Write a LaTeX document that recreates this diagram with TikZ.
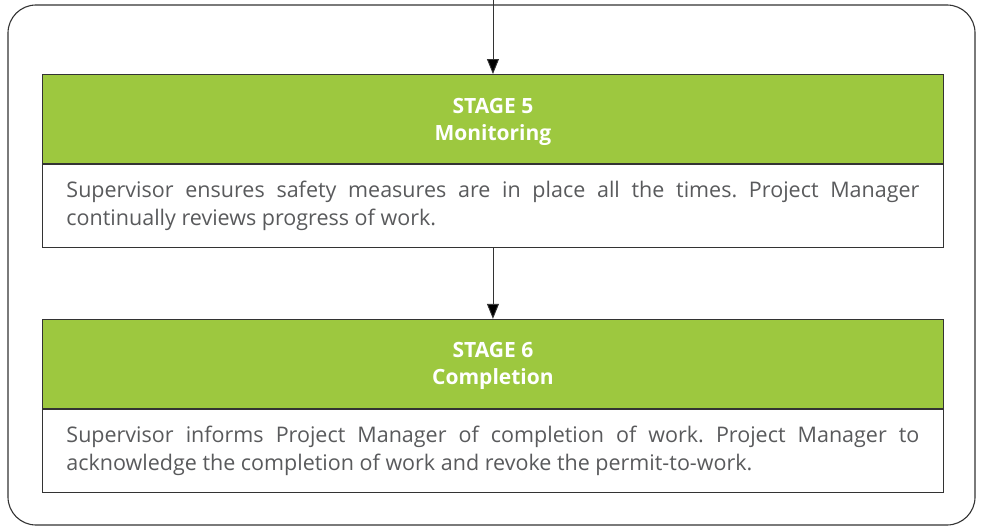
\documentclass[tikz,border=0pt]{standalone}
\usepackage{fontspec}
\setmainfont{Open Sans}
\usepackage{tikz}
\usetikzlibrary{arrows.meta}
\usetikzlibrary{positioning}
\definecolor{stagegreen}{HTML}{9DC83F}
\definecolor{bodygray}{HTML}{595A5C}

\begin{document}
\begin{tikzpicture}[x=1pt, y=-1pt,
    stagehead/.style={draw=black!80, fill=stagegreen, line width=0.9pt, minimum width=901pt, minimum height=89pt,
        inner sep=0pt, text depth=0pt, text=white, align=center, font=\bfseries\fontsize{21}{27}\selectfont},
    stagebody/.style={draw=black!80, line width=0.9pt, minimum width=901pt, minimum height=83pt,
        inner sep=0pt, text width=853pt, align=justify, text=bodygray, font=\frenchspacing\fontsize{21.5}{28}\selectfont},
    flow/.style={draw=black!80, line width=0.9pt, -{Triangle[length=15pt, width=12pt, fill=black]}}]
    \useasboundingbox (0, 0) rectangle (981, 527); % page size
    \draw[draw=black!80, line width=1.1pt, rounded corners=28pt] (8, 5) rectangle (975, 525);
    \node[stagehead, anchor=north west] (head5) at (42, 74) {STAGE 5\\Monitoring};
    \node[stagebody, below=0pt of head5] (body5) {Supervisor ensures safety measures are in place all the times. Project Manager\linebreak continually reviews progress of work.};
    \node[stagehead, below=71pt of body5] (head6) {STAGE 6\\Completion};
    \node[stagebody, below=0pt of head6] (body6) {Supervisor informs Project Manager of completion of work. Project Manager to\linebreak acknowledge the completion of work and revoke the permit-to-work.};
    \coordinate (entry) at (head5.north |- 0, 0);
    \draw[flow] (entry) -- (head5.north);
    \draw[flow] (body5.south) -- (head6.north);
\end{tikzpicture}
\end{document}
